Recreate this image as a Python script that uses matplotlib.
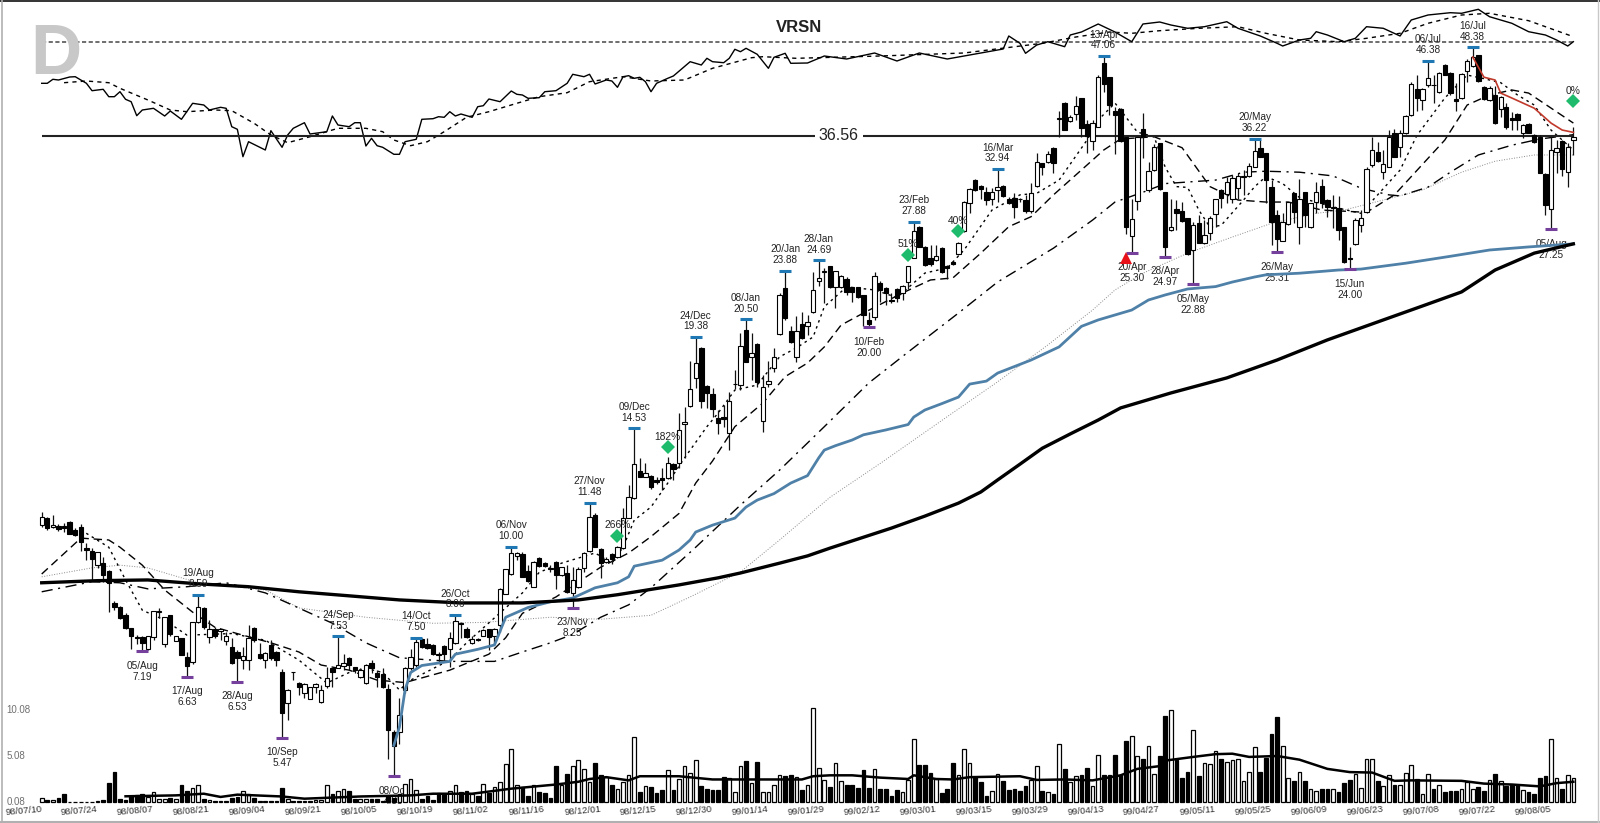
import numpy as np
import matplotlib
matplotlib.use('Agg')
import matplotlib.pyplot as plt

plt.rcParams['font.family'] = ['Liberation Sans', 'DejaVu Sans']

# Daily bars, 98/07/10 onwards
opens = [10.70,10.93,10.63,10.67,10.67,10.80,10.54,10.65,9.94,9.86,
 9.44,9.50,9.27,8.36,8.27,8.06,7.74,7.51,7.51,7.23,
 7.51,8.14,7.35,8.05,7.43,7.49,7.05,6.94,7.87,8.25,
 7.51,7.72,7.65,7.43,7.29,7.17,7.00,7.00,7.74,7.13,
 6.99,7.33,7.17,6.73,6.10,6.73,6.51,6.29,6.19,6.42,
 6.12,6.43,6.81,6.82,6.85,7.03,6.83,6.63,6.51,6.93,
 6.70,6.68,6.37,5.57,5.57,6.36,6.82,6.88,7.46,7.36,
 7.33,7.12,7.31,7.23,7.38,7.85,7.72,7.38,7.47,7.55,
 7.70,7.53,7.80,8.62,9.16,9.70,9.77,9.27,8.81,9.66,
 9.49,9.34,9.51,9.14,9.21,8.65,8.81,9.35,9.87,11.05,
 9.91,9.53,9.77,9.69,9.94,10.95,11.67,12.70,12.47,12.49,
 12.34,12.40,12.40,12.97,13.00,14.73,15.58,17.01,18.74,16.60,
 16.19,14.99,15.07,14.30,16.71,16.65,19.81,18.22,18.96,14.86,
 16.69,17.55,19.56,22.60,19.77,18.22,20.20,20.09,20.95,23.12,
 23.76,24.22,22.70,22.70,23.27,22.70,22.70,22.13,20.45,20.61,
 23.00,22.60,21.78,22.53,22.25,23.05,24.90,27.45,25.78,24.85,
 24.71,25.70,24.26,24.55,25.19,27.07,29.57,31.80,31.25,30.67,
 30.00,30.82,31.22,29.95,30.09,30.00,29.86,28.85,31.22,33.58,
 33.70,35.20,38.60,40.60,38.36,39.15,41.15,37.97,35.97,37.65,
 46.05,43.98,39.55,39.80,36.40,26.62,29.80,37.42,30.82,32.82,
 35.78,30.58,27.16,29.00,28.87,28.18,25.50,27.75,26.05,26.90,
 28.55,30.82,30.40,30.00,31.00,32.10,32.22,33.15,35.15,34.60,
 31.15,28.50,26.25,27.66,30.50,27.46,30.58,27.46,29.70,31.22,
 29.86,29.15,29.10,27.40,24.85,25.98,27.60,28.72,33.35,34.78,
 32.60,33.15,36.85,35.35,36.85,39.00,42.35,40.95,42.95,42.95,
 41.95,45.75,44.65,41.05,41.20,44.85,45.65,47.20,42.60,40.95,
 41.60,39.80,40.00,38.70,39.15,36.92,37.97,36.65,36.46,32.40,
 29.00,34.70,36.00,32.60,36.08]
highs = [11.16,10.98,11.05,10.74,10.76,10.83,10.60,10.74,10.10,9.96,
 9.82,9.69,9.29,8.41,8.29,8.10,7.74,7.56,7.53,7.55,
 8.15,8.25,8.01,8.06,7.55,7.49,7.17,7.88,8.59,8.27,
 7.93,7.76,7.72,7.64,7.49,7.21,7.29,7.80,7.76,7.38,
 7.17,7.44,7.19,6.79,6.37,6.74,6.52,6.51,6.42,6.51,
 6.47,6.84,6.82,7.53,7.12,7.05,6.84,6.82,6.91,6.99,
 6.77,6.81,6.49,5.60,6.20,6.84,7.24,7.50,7.49,7.49,
 7.36,7.17,7.33,7.64,8.06,7.87,7.75,7.53,7.49,7.70,
 7.72,7.74,8.77,9.31,10.00,9.84,9.84,9.44,9.55,9.69,
 9.53,9.44,9.55,9.38,9.44,9.38,9.38,9.84,11.48,11.11,
 9.94,9.69,9.79,10.03,11.28,12.15,14.53,13.21,13.00,12.53,
 12.47,12.80,13.28,13.00,15.24,15.54,17.98,19.38,18.80,16.64,
 16.48,15.39,15.63,16.30,17.46,19.60,20.50,19.60,19.00,17.19,
 17.98,18.70,22.25,23.88,20.04,20.70,21.00,20.77,23.78,24.69,
 24.13,24.26,23.90,23.58,23.45,22.70,22.70,22.13,21.00,23.82,
 23.15,22.70,22.25,22.60,22.84,24.26,27.88,27.50,25.85,25.90,
 25.90,25.72,24.31,24.63,26.15,29.76,31.00,31.87,31.32,31.15,
 31.00,32.94,31.32,30.10,30.50,30.05,30.35,31.50,34.60,33.58,
 34.88,35.35,39.50,40.75,39.05,41.50,41.20,38.44,38.44,44.30,
 47.06,44.05,40.05,39.90,36.46,30.00,36.46,39.35,33.70,35.60,
 35.78,30.63,30.00,29.86,29.70,28.18,27.87,28.50,28.03,28.35,
 30.00,30.89,32.15,32.30,32.47,32.82,33.53,36.22,36.08,34.65,
 31.80,28.93,28.63,29.70,30.55,31.95,30.63,29.60,31.63,31.95,
 29.95,30.30,30.25,27.45,25.78,28.18,28.93,33.15,36.46,35.88,
 34.97,37.30,37.42,37.24,39.05,43.40,44.30,42.50,46.38,44.30,
 44.75,45.90,44.75,43.15,44.55,46.55,48.38,47.20,42.75,42.75,
 42.75,41.40,40.55,39.45,39.25,37.90,38.05,36.75,36.65,32.47,
 36.46,36.08,36.08,35.78,37.55]
lows = [10.65,10.54,10.60,10.52,10.48,10.39,10.33,9.87,9.60,9.00,
 9.34,8.95,8.14,8.18,7.95,7.70,7.23,7.36,7.19,7.21,
 7.44,7.97,7.29,7.53,7.42,7.10,6.63,6.90,7.85,7.72,
 7.38,7.49,7.44,7.33,6.90,6.53,6.79,6.77,7.40,7.02,
 6.81,6.99,6.86,5.47,5.79,6.56,6.26,6.20,6.18,6.29,
 6.11,6.39,6.42,6.81,6.77,6.77,6.70,6.60,6.49,6.70,
 6.42,6.39,5.12,4.85,5.37,6.29,6.77,6.84,7.27,7.24,
 7.10,6.95,6.95,6.84,7.36,7.49,7.49,7.36,7.42,7.53,
 7.22,7.36,7.64,8.60,9.14,9.58,9.09,8.95,8.79,9.38,
 9.38,9.24,8.74,9.11,8.65,8.25,8.77,9.24,9.84,9.98,
 9.05,9.49,9.47,9.66,9.91,10.93,11.63,12.44,12.44,11.98,
 12.20,11.95,12.37,12.34,12.80,13.21,15.54,16.48,15.47,15.47,
 15.07,14.25,14.60,13.56,16.43,16.39,17.88,16.92,16.57,14.37,
 16.57,17.36,19.51,20.45,19.04,17.92,19.24,19.51,20.88,22.76,
 21.55,22.60,21.22,22.62,22.13,21.66,21.95,20.04,20.00,20.45,
 21.66,21.45,21.55,21.66,21.78,22.53,24.85,25.72,24.26,24.26,
 24.65,23.75,23.25,24.31,25.10,27.00,28.63,30.75,30.00,29.40,
 29.40,29.70,30.19,29.45,28.18,29.70,28.63,28.63,31.10,32.30,
 33.53,32.47,36.40,37.24,38.15,38.44,36.46,34.60,34.97,37.55,
 42.00,39.05,34.52,35.88,26.80,25.30,28.93,34.05,30.67,32.75,
 30.82,24.97,27.10,27.16,27.87,25.13,22.88,26.05,25.98,26.32,
 27.46,29.10,29.55,29.57,30.00,30.35,32.10,33.10,34.15,29.55,
 25.90,25.31,26.20,27.60,27.75,26.00,27.46,27.30,28.63,29.10,
 28.33,27.30,26.32,24.45,24.00,25.90,26.95,28.63,33.15,33.70,
 31.95,33.10,34.15,34.15,36.75,38.95,39.60,39.67,42.70,40.60,
 41.90,44.25,41.60,39.55,41.05,43.40,45.50,43.40,40.95,40.85,
 37.97,38.80,37.42,37.24,37.30,36.27,36.85,35.78,32.47,28.50,
 27.25,32.47,32.22,31.15,34.42]
closes = [10.98,10.60,10.69,10.56,10.60,10.41,10.36,10.15,9.89,9.61,
 9.82,9.14,8.90,8.27,7.97,7.74,7.54,7.49,7.38,7.53,
 8.15,8.15,8.01,7.58,7.53,7.11,6.86,7.87,8.27,7.76,
 7.72,7.54,7.70,7.53,6.93,7.03,7.08,7.49,7.44,7.04,
 7.15,7.03,7.00,5.91,6.36,6.72,6.42,6.49,6.41,6.49,
 6.35,6.61,6.73,6.88,6.93,6.88,6.78,6.77,6.89,6.81,
 6.63,6.42,5.60,5.33,5.87,6.81,7.06,7.39,7.29,7.27,
 7.12,7.11,7.13,7.49,7.91,7.83,7.51,7.46,7.44,7.68,
 7.51,7.72,8.74,9.31,9.79,9.79,9.09,8.97,9.51,9.40,
 9.40,9.31,9.14,9.38,8.66,9.00,9.31,9.79,10.98,9.99,
 9.49,9.62,9.63,9.98,10.93,11.70,12.97,12.47,12.63,12.08,
 12.27,12.34,13.00,12.76,14.45,14.82,16.43,17.85,15.83,16.26,
 15.44,14.75,14.97,15.84,16.73,18.86,17.92,18.40,16.83,16.57,
 16.88,18.22,22.13,20.56,19.10,19.75,19.30,20.30,22.48,23.35,
 23.86,22.72,23.89,23.50,22.36,22.31,22.02,20.77,20.19,23.48,
 22.48,22.25,21.71,21.95,22.76,24.26,27.10,25.78,24.31,24.40,
 25.05,23.82,24.07,24.40,26.10,29.70,30.89,30.82,30.89,29.86,
 30.67,31.15,30.25,29.57,29.22,29.93,28.85,30.50,33.62,33.15,
 34.52,33.58,38.72,37.30,38.85,40.20,37.47,36.56,38.05,44.05,
 43.00,40.30,39.05,36.00,27.46,28.08,36.40,36.56,32.75,35.35,
 30.89,25.78,27.46,28.68,27.96,25.19,27.60,26.10,26.72,28.18,
 29.95,30.09,31.63,32.05,32.22,32.22,33.22,34.88,34.22,31.80,
 27.87,26.40,27.87,29.65,28.72,30.00,28.50,29.55,30.58,29.55,
 29.22,29.25,27.16,24.57,24.80,28.03,28.18,32.94,34.97,33.80,
 33.44,36.40,34.22,36.85,38.95,43.00,41.15,42.35,43.85,42.90,
 44.65,44.30,41.85,40.85,44.40,46.35,46.95,43.45,41.05,42.50,
 38.05,41.30,37.55,38.44,38.44,37.80,36.92,35.88,32.55,29.40,
 34.97,35.15,32.90,35.25,36.46]
volumes = [.4,.25,.25,.45,.9,.05,.05,.05,.05,.05,
 .1,.25,2.1,3.25,.3,.2,.6,.8,.9,.5,
 1.05,.35,.35,.45,.35,1.8,1.25,1.55,1.8,.35,
 .25,.1,.15,.15,.45,.55,1.2,.9,.45,.15,
 .1,.1,.1,1.55,.35,.15,.1,.1,.1,.2,
 .2,1.8,.9,1.15,1.4,1.25,.3,.35,.3,.35,
 .3,.1,.6,.4,.9,2.0,2.46,1.35,.35,.7,
 .2,1.0,.85,1.15,1.8,1.1,1.25,.85,.7,2.0,
 1.0,1.65,2.15,4.1,5.8,1.8,1.6,.7,1.8,1.1,
 1.0,.4,3.9,1.9,3.0,3.9,4.6,3.6,2.2,4.2,
 2.9,2.7,1.8,1.45,2.2,2.9,7.1,1.1,1.7,1.6,
 .95,1.35,3.5,1.3,2.5,3.9,3.2,4.6,1.7,1.4,
 1.35,1.35,2.7,2.6,1.05,3.9,4.5,2.1,4.4,1.05,
 1.1,1.8,2.9,2.8,2.9,2.7,1.3,1.8,10.2,3.7,
 2.4,1.6,4.2,2.3,1.9,1.9,1.55,3.5,1.55,3.6,
 1.45,1.45,.6,1.35,1.05,2.35,6.8,4.0,4.0,3.15,
 2.5,1.0,1.45,4.2,2.9,5.8,4.2,2.7,2.2,.7,
 1.2,3.0,2.3,1.35,1.45,1.15,1.7,2.35,3.9,1.2,
 1.05,.85,6.3,3.6,2.2,2.8,2.9,3.7,1.7,5.1,
 2.9,2.9,5.1,2.9,6.6,7.2,5.0,4.7,6.1,3.0,
 5.0,9.4,10.0,4.6,2.65,3.25,7.8,2.8,4.2,4.1,
 5.5,4.7,4.35,4.6,4.7,2.3,3.25,6.0,3.25,4.8,
 7.4,9.2,6.1,2.65,2.3,3.25,2.3,1.45,1.15,1.45,
 1.45,1.45,1.1,2.05,2.4,3.0,1.55,4.7,4.7,2.3,
 1.7,2.9,1.8,1.8,3.15,4.0,2.5,.85,3.0,1.45,
 1.8,1.1,1.2,1.25,1.45,2.2,1.45,1.6,1.2,2.4,
 3.0,2.3,1.7,1.8,1.9,1.35,1.1,.85,2.65,2.8,
 6.8,2.65,1.45,2.9,2.65]

vol_ma_idx = [15,24,29,32,35,43,47,57,66,70,77,84,92,96,98,101,105,107,114,120,129,136,138,141,145,150,155,156,160,163,166,175,178,183,188,193,196,200,201,206,210,213,216,221,225,230,234,238,242,245,254,258,263,268,271,274]
vol_ma = [.62,.72,.9,.55,.8,.6,.36,.6,.72,.9,.9,1.45,1.9,2.2,2.5,2.7,2.35,2.8,2.8,2.45,2.45,2.45,2.8,2.9,2.9,2.65,2.5,2.9,2.5,2.45,2.7,2.8,2.4,2.45,2.35,2.9,3.6,3.9,4.5,4.9,5.2,5.25,4.9,5.0,4.6,3.6,3.25,3.2,2.3,2.35,2.3,2.0,1.9,1.7,2.05,2.2]

# Moving averages, sampled where they can be read
ma10_idx = [7,12,15,18,22,26,34,40,46,51,55,58,61,64,66,73,76,86,89,93,99,102,104,106,109,112,115,119,121,124,128,132,135,138,140,144,149,153,158,162,165,170,175,178,182,187,189,192,193,196,199,201,203,205,207,209,211,215,217,219,222,225,231,236,243,246,251,255,258,261,264,267,270,274]
ma10 = [10.54,9.98,9.00,8.18,7.93,7.56,7.60,7.44,6.99,6.50,6.72,6.81,6.72,6.36,6.56,6.99,7.38,8.64,9.22,9.49,9.80,9.49,9.98,10.87,11.33,12.22,13.23,14.60,15.24,16.39,16.65,18.20,18.72,19.38,21.32,22.70,22.48,21.95,23.71,24.10,25.50,28.93,30.35,30.50,31.80,36.08,38.44,40.55,39.67,37.00,36.46,33.10,31.15,31.07,28.93,27.40,27.57,29.86,31.15,32.15,31.45,30.10,29.22,28.63,32.82,36.60,41.20,44.30,43.80,43.25,41.60,40.30,37.24,34.97]
ma20_idx = [0,7,12,14,18,22,27,31,36,41,46,50,55,60,65,73,80,83,86,92,100,105,109,114,117,120,124,129,133,137,140,143,147,154,159,163,168,173,177,181,187,190,193,199,204,209,214,219,223,229,237,242,251,255,259,263,266,274]
ma20 = [9.17,10.27,10.21,9.98,9.43,8.72,8.13,7.75,7.56,7.38,7.17,6.88,6.77,6.56,6.51,6.77,7.12,7.50,8.10,8.53,9.37,9.80,10.32,11.10,12.22,13.10,14.60,15.73,17.10,17.85,18.78,20.12,20.90,22.27,23.20,23.35,25.25,27.45,28.33,30.35,33.35,34.97,36.20,36.46,35.22,31.15,29.86,29.67,29.67,28.93,28.72,30.35,36.08,40.30,41.60,42.26,41.85,38.07]
ma50_idx = [0,9,14,19,26,33,40,44,52,58,64,73,81,86,91,95,100,105,109,117,125,132,140,148,155,164,171,181,188,192,197,201,210,215,219,225,231,236,241,243,248,252,257,263,268,274]
ma50 = [8.67,8.95,8.92,8.75,8.81,8.92,8.64,8.37,7.85,7.38,7.04,6.96,6.96,7.17,7.38,7.58,8.00,8.32,8.78,9.98,11.40,12.73,14.60,16.77,18.48,20.90,23.05,25.65,28.03,29.67,30.60,31.45,31.80,32.60,32.70,32.60,32.22,31.00,30.35,30.25,31.10,32.60,34.42,35.50,36.20,36.70]
ma100_idx = [0,9,14,19,28,40,46,58,70,79,91,100,109,116,125,132,141,150,162,171,180,188,192,197,205,213,220,228,233,240,247,254,260,267,274]
ma100 = [9.09,9.35,9.43,9.35,8.92,8.72,8.24,8.00,7.85,7.87,8.00,7.95,8.05,8.53,9.23,10.21,11.68,13.00,15.07,16.82,18.90,21.10,22.48,23.70,25.25,26.57,27.74,28.63,28.93,29.86,30.82,32.60,33.75,34.42,34.42]
ma_blue_idx = [63,64,65,66,68,73,74,78,81,83,87,91,95,99,103,105,106,111,114,116,117,120,124,126,128,131,134,137,139,140,142,145,147,151,155,156,158,161,164,166,169,171,177,182,186,189,195,198,201,205,210,213,217,219,225,232,236,244,252,259,266,274]
ma_blue = [5.34,5.66,6.36,6.72,6.87,6.96,7.12,7.23,7.33,8.00,8.25,8.40,8.50,8.78,8.92,9.09,9.40,9.58,9.89,10.21,10.47,10.70,10.94,11.33,11.58,11.82,12.22,12.51,13.23,13.56,13.75,14.00,14.23,14.45,14.70,15.05,15.39,15.70,16.03,16.70,16.86,17.29,18.02,18.78,20.04,20.45,21.10,21.78,22.13,22.55,22.72,23.05,23.42,23.58,23.70,23.94,24.01,24.46,25.00,25.50,25.75,26.00]
ma200_idx = [0,10,19,28,37,46,55,64,75,86,96,103,114,121,125,132,137,141,146,152,158,164,168,171,175,179,184,189,193,202,212,221,230,240,247,254,260,267,274]
ma200 = [8.92,8.98,9.00,8.89,8.81,8.67,8.56,8.45,8.37,8.37,8.45,8.59,8.86,9.06,9.20,9.49,9.71,9.95,10.24,10.60,11.01,11.47,11.88,12.34,12.97,13.64,14.27,14.91,15.49,16.24,17.03,18.02,19.20,20.45,21.37,22.34,23.94,25.25,26.00]
red_idx = [256,258,260,261,263,267,270,272,274]
red_line = [46.90,44.00,43.61,41.85,41.20,39.90,38.07,37.24,36.97]

# Relative strength panel at the top, arbitrary units
rs_idx = [0,1,2,3,5,6,8,9,11,12,13,14,15,16,17,18,20,22,23,25,27,29,30,32,33,34,35,36,37,40,41,43,44,45,47,48,51,52,53,55,56,57,58,59,60,61,63,64,65,67,68,70,71,72,73,74,75,77,78,79,80,82,84,85,86,87,89,90,92,94,95,97,98,99,101,102,103,104,105,106,107,108,109,110,112,113,116,118,119,120,122,123,124,125,126,128,130,131,133,134,137,140,144,149,153,157,162,168,172,173,175,176,178,180,183,184,186,189,192,195,197,200,202,205,208,212,214,218,221,222,225,227,228,230,233,235,237,240,243,245,248,252,254,257,259,263,266,269,271,273,274]
rs = [66.7,66.7,70.7,70,73,73.3,66.7,59.3,60.7,53.3,53.3,58.3,50.7,48.3,34.3,40,41.7,34,39,30.7,46.7,45,40,42.7,41.7,23.3,20.7,-6.7,8.3,0,19.3,2.7,15,21.7,27.3,16,18.3,34,25,23.3,27.3,27.3,4,11.7,4.3,2.7,-4.3,-4.3,8.3,10.7,30.7,31.3,33.3,32.7,38.3,34,36,32.7,43.3,44.3,51,48.3,59,55.7,55,51.7,52.3,58.3,59.3,66.7,75.7,73.3,75.7,66,70,69,62.7,73.3,74.3,71.7,72.7,68.3,58.3,66.7,71.7,74,88.3,85,91.7,88.3,87.3,91.7,100.7,98.3,101.7,95.7,81.7,92.7,96.7,86.7,87,94,91,97,89,97,91,97,101,114,106.7,96.7,105,108.3,103.3,115,118,126,118,108.3,126,128,125,121.7,123.3,128.3,121.7,114,106.7,104,110,111.7,118.3,115,108.3,111.7,123.3,121.7,114,130,135,137.3,136.7,140.7,133.3,126.7,118.3,115,110,104,108.3]
rs_avg_idx = [4,8,12,14,19,23,26,31,34,38,41,44,48,53,58,61,63,66,69,72,76,80,85,89,94,98,104,109,115,120,127,129,135,150,165,179,185,191,195,200,207,214,219,225,232,237,243,248,254,259,266,274]
rs_avg = [67.3,69,67.3,61.7,50,40,38.3,40,39.3,26.7,15,7.3,13.3,21.7,21.7,18.3,10,4.3,8.3,18.3,32.7,38.3,46.7,53.3,57.3,68.3,73.3,69,70,81.7,92.3,93.3,91.7,94,97,106.7,113,118,116.7,119.3,121.7,123.3,116.7,110,108.3,111.7,116.7,126.7,135,136.7,129.3,113.3]
rs_level = 108

# Marked turning points: date, price, bar number
high_dates = ['19/Aug','24/Sep','14/Oct','26/Oct','06/Nov','27/Nov','09/Dec','24/Dec','08/Jan','20/Jan','28/Jan','23/Feb','16/Mar','13/Apr','20/May','06/Jul','16/Jul']
high_prices = [8.59,7.53,7.50,8.06,10.00,11.48,14.53,19.38,20.50,23.88,24.69,27.88,32.94,47.06,36.22,46.38,48.38]
high_bars = [28,53,67,74,84,98,106,117,126,133,139,156,171,190,217,248,256]
low_dates = ['05/Aug','17/Aug','28/Aug','10/Sep','08/Oct','23/Nov','10/Feb','20/Apr','28/Apr','05/May','26/May','15/Jun','05/Aug']
low_prices = [7.19,6.63,6.53,5.47,4.85,8.25,20.00,25.30,24.97,22.88,25.31,24.00,27.25]
low_bars = [18,26,35,43,63,95,148,195,201,206,221,234,270]

gain_bars = [103,112,155,164,274]
gain_prices = [10.34,13.69,25.10,27.07,40.80]
gain_labels = ['266%','182%','51%','40%','0%']
signal_bar = 194
signal_price = 24.87
level_price = 36.56

tick_bars = list(range(0, 271, 10))
tick_labels = ['98/07/10','98/07/24','98/08/07','98/08/21','98/09/04','98/09/21','98/10/05','98/10/19','98/11/02','98/11/16','98/12/01','98/12/15','98/12/30','99/01/14','99/01/29','99/02/12','99/03/01','99/03/15','99/03/29','99/04/13','99/04/27','99/05/11','99/05/25','99/06/09','99/06/23','99/07/08','99/07/22','99/08/05']
vol_ticks = [10.08, 5.08, 0.08]

W, H = 1600, 823
BAR_STEP = 5.59
X0 = 41.7


def make_axes(fig, zorder):
    ax = fig.add_axes([0, 0, 1, 1], zorder=zorder)
    ax.set_xlim(-X0 / BAR_STEP, (W - X0) / BAR_STEP)
    ax.patch.set_alpha(0)
    ax.axis('off')
    return ax


fig = plt.figure(figsize=(16, 8.23), dpi=100, facecolor='white')

# price axis is logarithmic: 5.47 sits at row 737.7, 316.8 rows per e-fold
ax = make_axes(fig, 2)
ax.set_yscale('log')
ax.set_ylim(5.47 * np.exp((737.7 - H) / 316.8), 5.47 * np.exp(737.7 / 316.8))
ax.set_xlim(-X0 / BAR_STEP, (W - X0) / BAR_STEP)

vol_ax = make_axes(fig, 3)
vol_ax.set_ylim(0.08 + (802 - H) / 9.2, 0.08 + 802 / 9.2)

rs_ax = make_axes(fig, 1)
rs_ax.set_ylim(150 - H, 150)

bars = np.arange(len(closes))
o = np.array(opens)
c = np.array(closes)
down = c < o

# overlays under the candles
ax.plot(ma100_idx, ma100, color='#8a8a8a', lw=0.7, ls=(0, (1, 1.6)), zorder=2)
ax.plot(ma50_idx, ma50, color='black', lw=1.0, ls=(0, (8, 4, 1.5, 4)), zorder=2)
ax.plot(ma20_idx, ma20, color='black', lw=1.0, ls=(0, (6, 3.5)), zorder=2)
ax.plot(ma10_idx, ma10, color='black', lw=1.0, ls=(0, (1.8, 2.8)), zorder=2)
ax.plot(ma_blue_idx, ma_blue, color='#4f81a8', lw=2.0, zorder=5)
ax.plot(ma200_idx, ma200, color='black', lw=2.4, zorder=5)
ax.plot(red_idx, red_line, color='#c0392b', lw=1.2, zorder=6)

ax.vlines(bars, lows, highs, color='#111111', lw=0.9, zorder=3)
ax.bar(bars, np.abs(c - o), bottom=np.minimum(o, c), width=0.78,
       color=['black' if d else 'white' for d in down],
       edgecolor='black', linewidth=0.8, zorder=4)

# the level line, its label sits in a white gap
ax.hlines(level_price, 0, bars[-1], color='#222222', lw=1.5, zorder=2)
ax.text(142.6, level_price, '36.56', fontsize=11.5, color='#222222', ha='center', va='center',
        bbox=dict(facecolor='white', edgecolor='none', pad=3), zorder=3)

# turning point ticks and labels
ax.plot(high_bars, high_prices, ls='none', marker='_', ms=9, mew=2.2, color='#1f78b4', zorder=5)
ax.plot(low_bars, low_prices, ls='none', marker='_', ms=9, mew=2.2, color='#74409c', zorder=5)
for d, p, b in zip(high_dates, high_prices, high_bars):
    ax.annotate(d + '\n' + f'{p:.2f}', (b, p), xytext=(0, 4), textcoords='offset points',
                ha='center', va='bottom', fontsize=7.2, color='#222222', linespacing=1.1, zorder=6)
for d, p, b in zip(low_dates, low_prices, low_bars):
    ax.annotate(d + '\n' + f'{p:.2f}', (b, p), xytext=(0, -7), textcoords='offset points',
                ha='center', va='top', fontsize=7.2, color='#222222', linespacing=1.1, zorder=1)

# gain markers
ax.plot(gain_bars, gain_prices, ls='none', marker='D', ms=7.5, color='#1dbb6b', mew=0, zorder=7)
for b, p, t in zip(gain_bars, gain_prices, gain_labels):
    ax.annotate(t, (b, p), xytext=(0, 4), textcoords='offset points', ha='center', va='bottom',
                fontsize=7.4, color='#222222', zorder=8)
ax.plot([signal_bar], [signal_price], ls='none', marker='^', ms=9, color='#e8111a', mew=0, zorder=7)

# volume, bars keep the candle's colour
vol_ax.bar(bars, volumes, bottom=0.08, width=0.66,
           color=['black' if d else 'white' for d in down],
           edgecolor='black', linewidth=0.9, zorder=2)
vol_ax.plot(vol_ma_idx, np.array(vol_ma) + 0.08, color='black', lw=1.8, zorder=3)
for v in vol_ticks:
    vol_ax.text(-6.35, v, f'{v:.2f}', fontsize=7, color='#707070', ha='left', va='center')
for b, t in zip(tick_bars, tick_labels):
    vol_ax.text(b - 3.3, -0.9, t, fontsize=6.8, color='#333333', ha='center', va='center', rotation=5)

# relative strength panel
rs_ax.hlines(rs_level, 0, bars[-1], color='#555555', lw=1.2, ls=(0, (2.5, 1.5)), zorder=1)
rs_ax.plot(rs_idx, rs, color='black', lw=1.0, zorder=2)
rs_ax.plot(rs_avg_idx, rs_avg, color='black', lw=1.0, ls=(0, (3, 3)), zorder=2)

# text and frame in figure pixels
fig.text(30 / W, 1 - 74 / H, 'D', fontsize=51, fontweight='bold', color='#c8c8c8', ha='left', va='baseline')
fig.text(799 / W, 1 - 28 / H, 'VRSN', fontsize=12, fontweight='bold', color='#222222', ha='center', va='center')
fig.add_artist(plt.Line2D([0, 1], [1 - 1 / H, 1 - 1 / H], color='#111111', lw=1.2))
fig.add_artist(plt.Line2D([1.5 / W, 1.5 / W], [0, 1], color='#b0b0b0', lw=1.2))
fig.add_artist(plt.Line2D([0, 1], [1 / H, 1 / H], color='#b0b0b0', lw=1.5))
fig.add_artist(plt.Line2D([1598 / W, 1598 / W], [0, 1], color='#c8c8c8', lw=1.0))

fig.savefig('out.png', dpi=100)
